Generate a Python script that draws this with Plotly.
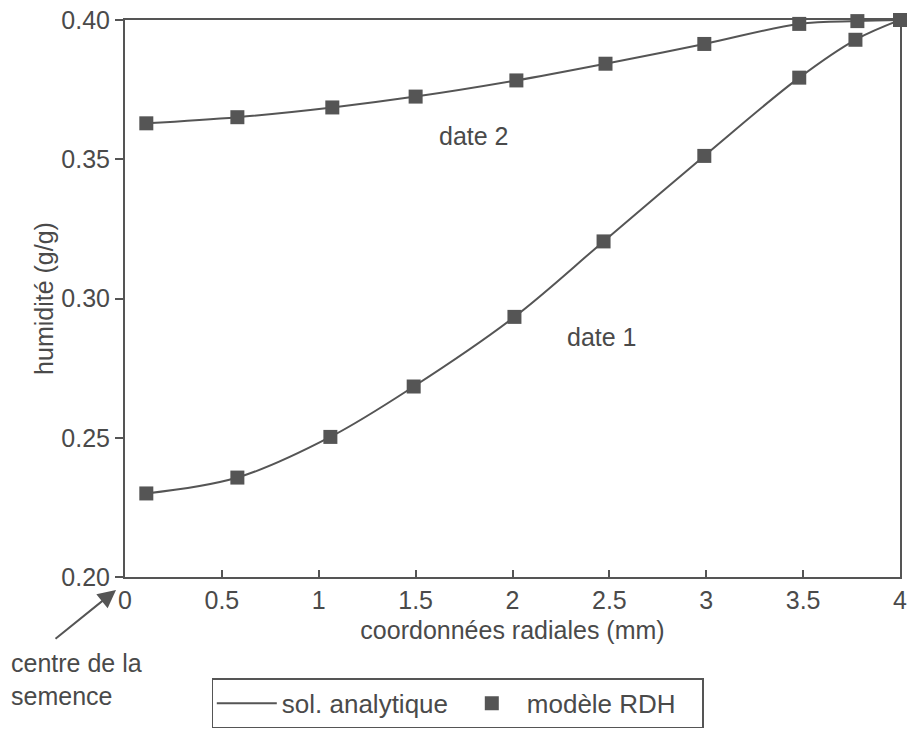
import plotly.graph_objects as go

# radial coordinate (mm) of model points
x_date1 = [0.11, 0.58, 1.06, 1.49, 2.01, 2.47, 2.99, 3.48, 3.77, 4.0]
y_date1 = [0.2300, 0.2357, 0.2503, 0.2684, 0.2934, 0.3205, 0.3512, 0.3793, 0.3929, 0.4000]

x_date2 = [0.11, 0.58, 1.07, 1.50, 2.02, 2.48, 2.99, 3.48, 3.78, 4.0]
y_date2 = [0.3629, 0.3651, 0.3686, 0.3725, 0.3783, 0.3843, 0.3914, 0.3986, 0.3996, 0.4000]

x_ticks = [0, 0.5, 1, 1.5, 2, 2.5, 3, 3.5, 4]
x_tick_labels = ["0", "0.5", "1", "1.5", "2", "2.5", "3", "3.5", "4"]
y_ticks = [0.20, 0.25, 0.30, 0.35, 0.40]
y_tick_labels = ["0.20", "0.25", "0.30", "0.35", "0.40"]

INK = "#555555"
TXT = "#4a4a4a"
FONT = "Liberation Sans, Arial, sans-serif"
FS = 25

fig = go.Figure()

# analytic solution (lines)
fig.add_trace(go.Scatter(x=x_date1, y=y_date1, mode="lines", name="sol. analytique",
                         line=dict(color=INK, width=2, shape="spline", smoothing=1.0),
                         legendgroup="sol", showlegend=True, cliponaxis=False))
fig.add_trace(go.Scatter(x=x_date2, y=y_date2, mode="lines", name="sol. analytique",
                         line=dict(color=INK, width=2, shape="spline", smoothing=1.0),
                         legendgroup="sol", showlegend=False, cliponaxis=False))
# RDH model (markers)
fig.add_trace(go.Scatter(x=x_date1, y=y_date1, mode="markers", name="modèle RDH",
                         marker=dict(symbol="square", size=14, color=INK),
                         legendgroup="rdh", showlegend=True, cliponaxis=False))
fig.add_trace(go.Scatter(x=x_date2, y=y_date2, mode="markers", name="modèle RDH",
                         marker=dict(symbol="square", size=14, color=INK),
                         legendgroup="rdh", showlegend=False, cliponaxis=False))

fig.update_layout(
    width=910, height=738,
    margin=dict(l=125, r=10, t=20, b=157),
    paper_bgcolor="white", plot_bgcolor="white",
    font=dict(family=FONT, size=FS, color=TXT),
    xaxis=dict(range=[0, 4], tickvals=x_ticks, ticktext=x_tick_labels,
               ticks="inside", ticklen=7, tickwidth=1.5, tickcolor=INK,
               showline=True, linecolor=INK, linewidth=2, mirror=True,
               showgrid=False, zeroline=False, automargin=False,
               title=dict(text="coordonnées radiales (mm)", standoff=8,
                          font=dict(size=FS)),
               tickfont=dict(size=FS)),
    yaxis=dict(range=[0.20, 0.40], tickvals=y_ticks, ticktext=y_tick_labels,
               ticks="outside", ticklen=8, tickwidth=1.5, tickcolor=INK,
               showline=True, linecolor=INK, linewidth=2, mirror=True,
               showgrid=False, zeroline=False, automargin=False,
               title=dict(text="humidité (g/g)", standoff=1, font=dict(size=FS)),
               tickfont=dict(size=FS)),
    legend=dict(orientation="h", x=0.112, y=-0.182, xanchor="left", yanchor="top",
                bordercolor=INK, borderwidth=1.5, bgcolor="white",
                font=dict(size=26, color=TXT), itemwidth=60,
                entrywidth=170, entrywidthmode="pixels"),
    showlegend=True,
)

fig.add_annotation(text="date 2", x=1.80, y=0.3585, xref="x", yref="y",
                   showarrow=False, font=dict(size=FS, color=TXT))
fig.add_annotation(text="date 1", x=2.46, y=0.2860, xref="x", yref="y",
                   showarrow=False, font=dict(size=FS, color=TXT))
fig.add_annotation(text="centre de la<br>semence", x=-0.150, y=-0.126,
                   xref="paper", yref="paper", xanchor="left", yanchor="top",
                   align="left", showarrow=False, font=dict(size=FS, color=TXT))
fig.add_annotation(text="", x=-0.0116, y=-0.0232, xref="paper", yref="paper",
                   ax=-62, ay=50, showarrow=True, arrowhead=2, arrowsize=1.8,
                   arrowwidth=2, arrowcolor=INK)

fig.write_html("out.html")
